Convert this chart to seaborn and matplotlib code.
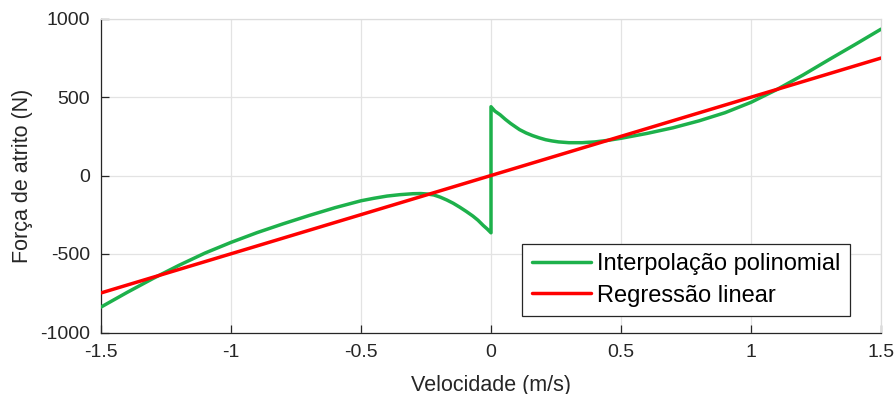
import numpy as np
import pandas as pd
import matplotlib
matplotlib.use("Agg")
import matplotlib.pyplot as plt
import seaborn as sns

# Polynomial interpolation of friction force: negative-velocity branch
vel_neg = [-1.5, -1.4, -1.3, -1.2, -1.1, -1.0, -0.9, -0.8, -0.7, -0.6,
           -0.5, -0.45, -0.4, -0.35, -0.3, -0.27, -0.245, -0.22, -0.195,
           -0.17, -0.145, -0.12, -0.095, -0.07, -0.05, -0.03, -0.015, 0.0]
force_neg = [-838, -745, -656, -572, -494, -426, -364, -308, -255, -205,
             -161, -145, -131, -122, -116, -115, -118, -124, -138,
             -156, -177, -202, -229, -258, -285, -318, -340, -365]

# Positive-velocity branch
vel_pos = [0.0, 0.015, 0.035, 0.055, 0.075, 0.095, 0.11, 0.135, 0.16, 0.185,
           0.21, 0.235, 0.26, 0.3, 0.35, 0.4, 0.45, 0.5, 0.6, 0.7, 0.8, 0.9,
           1.0, 1.1, 1.2, 1.3, 1.4, 1.5]
force_pos = [438, 410, 387, 358, 332, 309, 292, 271, 254, 240,
             228, 220, 214, 209, 209, 214, 224, 237, 268, 304, 348, 400,
             466, 548, 640, 738, 834, 932]

# Linear regression endpoints
vel_lin = [-1.5, 1.5]
force_lin = [-748, 748]

xticks = [-1.5, -1, -0.5, 0, 0.5, 1, 1.5]
xtick_labels = ["-1.5", "-1", "-0.5", "0", "0.5", "1", "1.5"]
yticks = [-1000, -500, 0, 500, 1000]
ytick_labels = ["-1000", "-500", "0", "500", "1000"]

sns.set_theme(style="white")
plt.rcParams["font.family"] = ["Liberation Sans", "DejaVu Sans"]

dark = "#262626"
green = "#1db14b"
red = "#ff0000"

poly = pd.DataFrame({"v": vel_neg + vel_pos, "F": force_neg + force_pos})
lin = pd.DataFrame({"v": vel_lin, "F": force_lin})

fig = plt.figure(figsize=(8.96, 3.94), dpi=100)
ax = fig.add_axes([101 / 896, 1 - 332.5 / 394, 780 / 896, 314 / 394])

sns.lineplot(data=poly, x="v", y="F", sort=False, estimator=None, color=green,
             linewidth=2.5, ax=ax, label="Interpolação polinomial", zorder=3,
             solid_joinstyle="round")
sns.lineplot(data=lin, x="v", y="F", sort=False, estimator=None, color=red,
             linewidth=2.5, ax=ax, label="Regressão linear", zorder=4)

ax.set_xlim(-1.5, 1.5)
ax.set_ylim(-1000, 1000)
ax.set_xticks(xticks)
ax.set_xticklabels(xtick_labels)
ax.set_yticks(yticks)
ax.set_yticklabels(ytick_labels)

ax.grid(True, color="#e3e3e3", linewidth=0.9)
ax.set_axisbelow(True)

for side in ("left", "bottom"):
    ax.spines[side].set_color(dark)
    ax.spines[side].set_linewidth(0.9)
for side in ("top", "right"):
    ax.spines[side].set_color("#dcdcdc")
    ax.spines[side].set_linewidth(0.9)

ax.tick_params(axis="both", direction="in", length=6, width=0.9, color=dark,
               labelsize=14, labelcolor=dark, pad=8,
               top=False, right=False, bottom=True, left=True)

ax.set_xlabel("Velocidade (m/s)", fontsize=15.5, color=dark, labelpad=10)
ax.set_ylabel("Força de atrito (N)", fontsize=15.5, color=dark, labelpad=5)

leg = ax.legend(loc="lower right", bbox_to_anchor=((850 - 101) / 780, (332.5 - 316) / 314),
                borderaxespad=0, fontsize=17, frameon=True, fancybox=False,
                handlelength=2.5, handletextpad=0.28, borderpad=0.4,
                labelspacing=0.4)
frame = leg.get_frame()
frame.set_edgecolor(dark)
frame.set_linewidth(0.9)
frame.set_facecolor("white")
frame.set_alpha(1)
for t in leg.get_texts():
    t.set_color("black")

fig.savefig("out.png", dpi=100)
